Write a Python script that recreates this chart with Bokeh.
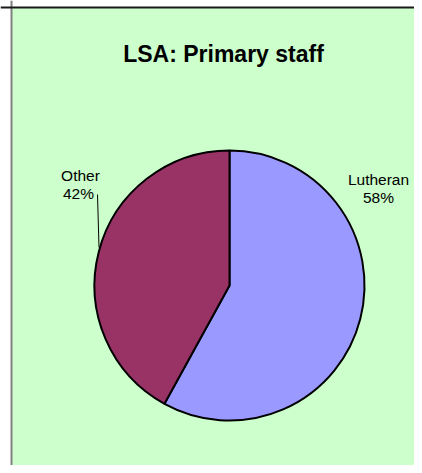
import numpy as np
from bokeh.plotting import figure
from bokeh.models import Range1d, Label, Span, BoxAnnotation, ColumnDataSource
from bokeh.embed import file_html
from bokeh.resources import INLINE

# ---- data ----
title_text = "LSA: Primary staff"
categories = ["Lutheran", "Other"]
percents = [58, 42]
colors = ["#9999FF", "#993366"]

# ---- layout (image pixels -> data units 1:1) ----
W, H = 414, 465
def ty(img_y):
    return H - img_y

p = figure(width=W, height=H, output_backend="svg", toolbar_location=None,
           x_range=Range1d(0, W), y_range=Range1d(0, H),
           min_border=0, min_border_left=0, min_border_right=0,
           min_border_top=0, min_border_bottom=0)
p.axis.visible = False
p.grid.visible = False
p.outline_line_color = None
p.background_fill_color = "white"
p.border_fill_color = "white"

# chart area background and border
p.add_layout(BoxAnnotation(left=11, top=ty(7), fill_color="#CCFFCC", fill_alpha=1.0,
                           line_color=None, level="underlay"))
p.add_layout(Span(location=11, dimension="height", line_color="#808080", line_width=2))
p.add_layout(Span(location=ty(7), dimension="width", line_color="#1a1a1a", line_width=2))

# pie: Lutheran clockwise from 12 o'clock, Other counter-clockwise
cx, cy, r = 229, ty(285), 135
fr = np.array(percents, dtype=float) / sum(percents)
ang0 = np.pi / 2
lut_start = ang0 - fr[0] * 2 * np.pi
starts = [lut_start, ang0]
ends = [ang0, ang0 + fr[1] * 2 * np.pi]
src = ColumnDataSource(dict(start=starts, end=ends, color=colors, cat=categories))
p.wedge(x=cx, y=cy, radius=r, start_angle="start", end_angle="end",
        fill_color="color", line_color="black", line_width=2, source=src)

# leader line for "Other"
p.segment(x0=[97], y0=[ty(194)], x1=[98.5], y1=[ty(247)], line_color="black", line_width=1)

font = "Liberation Sans"
p.add_layout(Label(x=223, y=ty(53), text=title_text, text_align="center",
                   text_baseline="alphabetic", text_font=font, text_font_size="23px",
                   text_font_style="bold", text_color="black"))

lab = dict(text_align="center", text_baseline="alphabetic", text_font=font,
           text_font_size="15.5px", text_color="black")
p.add_layout(Label(x=378, y=ty(179), text=categories[0], **lab))
p.add_layout(Label(x=378, y=ty(197), text=f"{percents[0]}%", **lab))
p.add_layout(Label(x=80, y=ty(175), text=categories[1], **lab))
p.add_layout(Label(x=78, y=ty(193), text=f"{percents[1]}%", **lab))

open("out.html", "w").write(file_html(p, INLINE))
